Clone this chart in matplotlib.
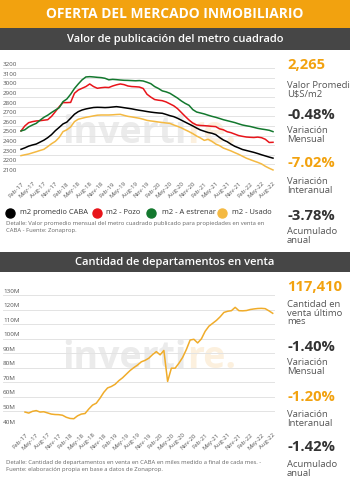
import matplotlib
matplotlib.use("Agg")
import matplotlib.pyplot as plt
from matplotlib.patches import Rectangle
from matplotlib.lines import Line2D
import matplotlib.transforms as mtransforms

plt.rcParams['font.family'] = ['Open Sans', 'DejaVu Sans']

# ---------------- DATA ----------------
months = ["Feb-17", "Mar-17", "Apr-17", "May-17", "Jun-17", "Jul-17", "Aug-17", "Sep-17", "Oct-17", "Nov-17", "Dec-17", "Jan-18",
          "Feb-18", "Mar-18", "Apr-18", "May-18", "Jun-18", "Jul-18", "Aug-18", "Sep-18", "Oct-18", "Nov-18", "Dec-18", "Jan-19",
          "Feb-19", "Mar-19", "Apr-19", "May-19", "Jun-19", "Jul-19", "Aug-19", "Sep-19", "Oct-19", "Nov-19", "Dec-19", "Jan-20",
          "Feb-20", "Mar-20", "Apr-20", "May-20", "Jun-20", "Jul-20", "Aug-20", "Sep-20", "Oct-20", "Nov-20", "Dec-20", "Jan-21",
          "Feb-21", "Mar-21", "Apr-21", "May-21", "Jun-21", "Jul-21", "Aug-21", "Sep-21", "Oct-21", "Nov-21", "Dec-21", "Jan-22",
          "Feb-22", "Mar-22", "Apr-22", "May-22", "Jun-22", "Jul-22", "Aug-22"]

m2_promedio = [2357, 2372, 2390, 2402, 2412, 2432, 2452, 2478, 2510, 2551, 2585, 2621,
               2640, 2680, 2722, 2749, 2766, 2777, 2785, 2792, 2794, 2793, 2791, 2793,
               2797, 2801, 2796, 2790, 2784, 2778, 2770, 2763, 2757, 2750, 2744, 2739,
               2735, 2732, 2720, 2707, 2697, 2680, 2660, 2640, 2620, 2600, 2578, 2558,
               2545, 2532, 2524, 2510, 2480, 2454, 2436, 2410, 2388, 2372, 2355, 2345,
               2335, 2325, 2313, 2300, 2288, 2276, 2265]

m2_pozo = [2548, 2600, 2634, 2645, 2652, 2655, 2660, 2665, 2700, 2749, 2800, 2843,
           2843, 2845, 2940, 2974, 2992, 3010, 3037, 3010, 2992, 2998, 3002, 3000,
           3016, 3028, 3037, 3030, 3016, 3010, 3008, 3005, 2990, 2930, 2900, 2875,
           2868, 2863, 2850, 2830, 2810, 2780, 2740, 2700, 2662, 2630, 2610, 2605,
           2603, 2600, 2596, 2593, 2570, 2560, 2540, 2530, 2515, 2500, 2492, 2485,
           2482, 2480, 2484, 2478, 2461, 2428, 2430]

m2_estrenar = [2548, 2560, 2590, 2610, 2627, 2660, 2690, 2712, 2740, 2765, 2790, 2853,
               2880, 2930, 2990, 3037, 3080, 3110, 3113, 3110, 3106, 3103, 3096, 3080,
               3085, 3082, 3078, 3075, 3074, 3072, 3070, 3072, 3068, 3055, 3040, 3010,
               2990, 2965, 2955, 2940, 2915, 2890, 2860, 2835, 2815, 2770, 2745, 2735,
               2725, 2712, 2700, 2690, 2678, 2665, 2655, 2645, 2635, 2622, 2610, 2602,
               2595, 2585, 2575, 2568, 2562, 2555, 2541]

m2_usado = [2291, 2300, 2308, 2320, 2332, 2345, 2357, 2385, 2415, 2440, 2480, 2541,
            2560, 2590, 2645, 2670, 2680, 2690, 2697, 2705, 2712, 2714, 2714, 2714,
            2716, 2719, 2721, 2710, 2700, 2694, 2687, 2680, 2670, 2658, 2652, 2647,
            2641, 2636, 2631, 2627, 2610, 2596, 2580, 2560, 2541, 2520, 2495, 2475,
            2450, 2461, 2440, 2412, 2395, 2370, 2355, 2340, 2322, 2305, 2285, 2265,
            2250, 2235, 2221, 2205, 2180, 2160, 2142]

deptos = [49.4, 48.7, 49.9, 50.4, 49.4, 49.6, 48.8, 48.0, 47.7, 47.6, 47.2, 45.8,
          45.0, 44.8, 46.8, 48.0, 48.4, 51.5, 54.2, 55.5, 59.0, 63.0, 66.0, 67.0,
          68.5, 71.0, 73.0, 75.5, 78.0, 80.0, 81.8, 84.0, 85.0, 86.5, 89.0, 91.0,
          88.8, 91.8, 70.5, 79.6, 79.6, 83.0, 87.0, 92.5, 99.0, 99.5, 97.0, 99.8,
          105.0, 108.5, 110.5, 112.5, 115.0, 118.0, 118.8, 119.2, 121.5, 119.2, 119.1, 119.3,
          120.0, 120.4, 120.7, 120.8, 120.6, 119.1, 117.41]

series_names = ["m2 promedio CABA", "m2 - Pozo", "m2 - A estrenar", "m2 - Usado"]
y1_ticks = [2100, 2200, 2300, 2400, 2500, 2600, 2700, 2800, 2900, 3000, 3100, 3200]
y2_ticks = [40, 50, 60, 70, 80, 90, 100, 110, 120, 130]
y2_labels = ["40M", "50M", "60M", "70M", "80M", "90M", "100M", "110M", "120M", "130M"]

title_main = "OFERTA DEL MERCADO INMOBILIARIO"
title_1 = "Valor de publicación del metro cuadrado"
title_2 = "Cantidad de departamentos en venta"
kpi1 = [("2,265", "Valor Promedio\nU$S/m2"), ("-0.48%", "Variación\nMensual"),
        ("-7.02%", "Variación\nInteranual"), ("-3.78%", "Acumulado\nanual")]
kpi2 = [("117,410", "Cantidad en\nventa último\nmes"), ("-1.40%", "Variación\nMensual"),
        ("-1.20%", "Variación\nInteranual"), ("-1.42%", "Acumulado\nanual")]
note1 = "Detalle: Valor promedio mensual del metro cuadrado publicado para propiedades en venta en\nCABA - Fuente: Zonaprop."
note2 = "Detalle: Cantidad de departamentos en venta en CABA en miles medido a final de cada mes. -\nFuente: elaboración propia en base a datos de Zonaprop."

# ---------------- STYLE ----------------
W, H = 350, 487
ORANGE = "#F2A20F"
DARK = "#464646"
C_BLACK = "#000000"
C_RED = "#E8141A"
C_GREEN = "#13782E"
C_USADO = "#F4B942"
C_LINE2 = "#F0AC2A"
GRID = "#E3E3E3"
TXT = "#555555"

fig = plt.figure(figsize=(W / 100, H / 100), dpi=100)
fig.patch.set_facecolor("white")


def fx(x):
    return x / W


def fy(y):
    return 1 - y / H


def band(y0, y1, color):
    fig.patches.append(Rectangle((0, fy(y1)), 1, fy(y0) - fy(y1), transform=fig.transFigure,
                                 facecolor=color, edgecolor="none", zorder=0))


band(0, 27.5, ORANGE)
band(28.3, 50, DARK)
band(251.7, 271.7, DARK)
fig.text(0.5, fy(14), title_main, ha="center", va="center", color="white", fontsize=9.9, fontweight="bold")
fig.text(0.5, fy(39.5), title_1, ha="center", va="center", color="white", fontsize=8.0, fontweight="semibold")
fig.text(0.5, fy(262), title_2, ha="center", va="center", color="white", fontsize=8.0, fontweight="semibold")


def watermark(ybase):
    fig.text(fx(187), fy(ybase), "inverti", ha="right", va="baseline", fontsize=27, fontweight="bold",
             color="#EBEBEB", zorder=0.5)
    fig.text(fx(187), fy(ybase), "re.", ha="left", va="baseline", fontsize=27, fontweight="bold",
             color="#FCF0DE", zorder=0.5)


def make_axes(top, bottom, left_px, right_px, x0_px, x66_px, yticks, ylabels, ylim):
    ax = fig.add_axes([fx(left_px), fy(bottom), fx(right_px) - fx(left_px), fy(top) - fy(bottom)])
    ax.patch.set_alpha(0)
    ax.set_zorder(2)
    scale = (x66_px - x0_px) / 66
    ax.set_xlim(-(x0_px - left_px) / scale, 66 + (right_px - x66_px) / scale)
    ax.set_ylim(*ylim)
    for s in ax.spines.values():
        s.set_visible(False)
    ax.set_yticks([])
    for v in yticks:
        ax.axhline(v, color=GRID, lw=0.7, zorder=1)
    lab_tr = mtransforms.offset_copy(
        mtransforms.blended_transform_factory(ax.transAxes, ax.transData), fig=fig, x=0, y=1.2, units="dots")
    for v, lab in zip(yticks, ylabels):
        ax.text(0, v, lab, transform=lab_tr, ha="left", va="bottom", fontsize=4.5, color=TXT)
    pos = list(range(0, len(months), 3))
    ax.set_xticks(pos, [months[p] for p in pos], rotation=45, ha="right", rotation_mode="anchor",
                  fontsize=4.4, color=TXT)
    ax.tick_params(axis="x", length=0, pad=5)
    return ax


# ---------------- CHART 1 ----------------
watermark(143)
ax1 = make_axes(68.3, 174, 3, 275, 21, 273, y1_ticks, [str(v) for v in y1_ticks], (2100, 3200))
xs = list(range(len(months)))
for vals, c in zip([m2_usado, m2_promedio, m2_pozo, m2_estrenar], [C_USADO, C_BLACK, C_RED, C_GREEN]):
    ax1.plot(xs, vals, color=c, lw=1.1, zorder=3)

leg_x_circle = [10, 96.7, 150.7, 222]
leg_x_text = [20.5, 106.5, 161.5, 232.5]
for name, c, xc, xt in zip(series_names, [C_BLACK, C_RED, C_GREEN, C_USADO], leg_x_circle, leg_x_text):
    fig.add_artist(Line2D([fx(xc)], [fy(212.7)], marker="o", markersize=6.5, color=c, transform=fig.transFigure))
    fig.text(fx(xt), fy(212.7), name, ha="left", va="center", fontsize=5.4, color="#333333")

fig.text(fx(6.5), fy(227), note1, ha="left", va="center", fontsize=4.2, color="#666666", linespacing=1.55)

# ---------------- CHART 2 ----------------
watermark(368)
ax2 = make_axes(295, 425.7, 3, 275, 25, 272.7, y2_ticks, y2_labels, (40, 130))
ax2.plot(xs, deptos, color=C_LINE2, lw=1.1, zorder=3)
fig.text(fx(6.5), fy(466), note2, ha="left", va="center", fontsize=4.2, color="#666666", linespacing=1.55)

# ---------------- KPI PANELS ----------------
def kpis(items, ys_num, ys_lab, colors):
    for (num, lab), yn, yl, c in zip(items, ys_num, ys_lab, colors):
        fig.text(fx(287), fy(yn), num, ha="left", va="center", fontsize=10.6, fontweight="bold", color=c)
        fig.text(fx(287), fy(yl), lab, ha="left", va="top", fontsize=6.8, color=TXT, linespacing=0.95)


kpis(kpi1, [65, 115, 163, 216], [81, 126, 177, 227], [ORANGE, "#333333", ORANGE, "#333333"])
kpis(kpi2, [287, 347, 397, 447], [300, 358, 410, 460], [ORANGE, "#333333", ORANGE, "#333333"])

fig.savefig("out.png", dpi=100, facecolor="white")
